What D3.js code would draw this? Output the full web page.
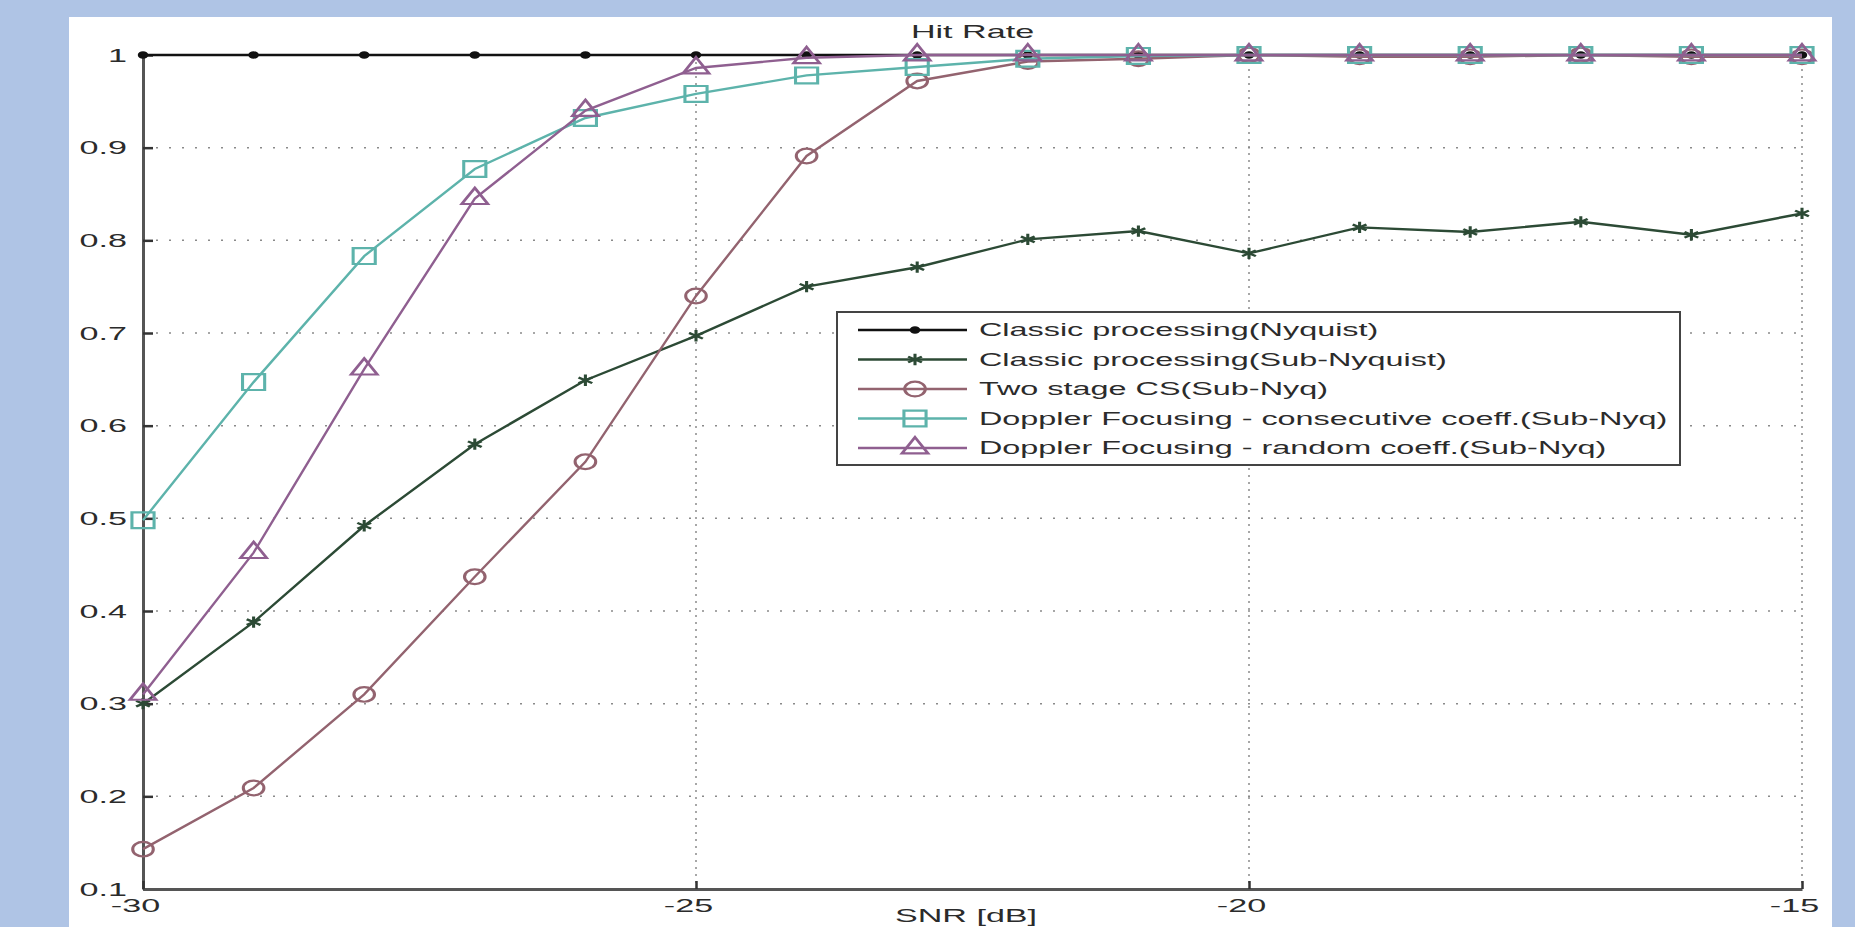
<!DOCTYPE html>
<html>
<head>
<meta charset="utf-8">
<script src="https://cdn.jsdelivr.net/npm/d3@7"></script>
<style>
  body { margin: 0; background: #afc4e5; overflow: hidden; }
  text { font-family: "Liberation Sans", Arial, sans-serif; fill: #2b2b2b; }
</style>
</head>
<body>
<div id="chart"></div>
<script>
// data
var snr = [-30, -29, -28, -27, -26, -25, -24, -23, -22, -21, -20, -19, -18, -17, -16, -15];
var nyquist = [1, 1, 1, 1, 1, 1, 1, 1, 1, 1, 1, 1, 1, 1, 1, 1];
var subNyquist = [0.300, 0.388, 0.492, 0.580, 0.649, 0.697, 0.750, 0.771, 0.801, 0.810, 0.786, 0.814, 0.809, 0.820, 0.806, 0.829];
var twoStage = [0.143, 0.209, 0.310, 0.437, 0.561, 0.740, 0.891, 0.972, 0.993, 0.996, 1.0, 0.998, 0.998, 1.0, 0.998, 0.998];
var dopplerConsec = [0.498, 0.647, 0.783, 0.877, 0.932, 0.958, 0.978, 0.987, 0.996, 0.999, 1, 1, 1, 1, 1, 1];
var dopplerRandom = [0.310, 0.463, 0.661, 0.845, 0.940, 0.986, 0.997, 1, 1, 1, 1, 1, 1, 1, 1, 1];
var seriesNames = ["Classic processing(Nyquist)", "Classic processing(Sub-Nyquist)", "Two stage CS(Sub-Nyq)",
  "Doppler Focusing - consecutive coeff.(Sub-Nyq)", "Doppler Focusing - random coeff.(Sub-Nyq)"];
var xTicks = [-30, -25, -20, -15];
var yTicks = [0.1, 0.2, 0.3, 0.4, 0.5, 0.6, 0.7, 0.8, 0.9, 1];
var chartTitle = "Hit Rate";
var xTitle = "SNR [dB]";

var svgWidth = 1855, svgHeight = 927;
var plot = { left: 143, right: 1802, top: 55, bottom: 889 };
var SX = 1.95;   // the picture is stretched sideways, text too
var FS = "17.5px";

var styles = [
  { color: "#111111", symbol: d3.symbolCircle, size: 22, fill: true },
  { color: "#2c4a35", symbol: d3.symbolAsterisk, size: 90, fill: false },
  { color: "#93636f", symbol: d3.symbolCircle, size: 170, fill: false },
  { color: "#5db3ab", symbol: d3.symbolSquare, size: 250, fill: false },
  { color: "#8f5f90", symbol: d3.symbolTriangle, size: 150, fill: false }
];
var allSeries = [nyquist, subNyquist, twoStage, dopplerConsec, dopplerRandom];

var svg = d3.select("#chart").append("svg")
  .attr("width", svgWidth)
  .attr("height", svgHeight);

svg.append("rect")
  .attr("x", 69).attr("y", 17)
  .attr("width", 1763).attr("height", 910)
  .attr("fill", "#ffffff");

var x = d3.scaleLinear().domain([-30, -15]).range([plot.left, plot.right]);
var y = d3.scaleLinear().domain([0.1, 1]).range([plot.bottom, plot.top]);

function stretchedText(g, tx, ty, str, anchor, sx) {
  return g.append("text")
    .attr("transform", `translate(${tx},${ty}) scale(${sx || SX},1)`)
    .style("font-size", FS)
    .style("text-anchor", anchor)
    .text(str);
}

// grid
var grid = svg.append("g");
grid.selectAll(".hg")
  .data(yTicks.filter(d => d > 0.1))
  .enter().append("line")
  .attr("x1", plot.left).attr("x2", plot.right)
  .attr("y1", d => y(d)).attr("y2", d => y(d))
  .attr("stroke", "#8a8a8a")
  .attr("stroke-width", 1.5)
  .attr("stroke-dasharray", "2,11");
grid.selectAll(".vg")
  .data(xTicks.filter(d => d > -30))
  .enter().append("line")
  .attr("x1", d => x(d)).attr("x2", d => x(d))
  .attr("y1", plot.top).attr("y2", plot.bottom)
  .attr("stroke", "#8a8a8a")
  .attr("stroke-width", 1.5)
  .attr("stroke-dasharray", "2,5");

// axes
var yAxis = d3.axisLeft(y).tickValues(yTicks).tickSizeInner(-10).tickSizeOuter(0)
  .tickFormat(d => d3.format("")(+d.toFixed(1)));
var yG = svg.append("g").attr("transform", `translate(${plot.left},0)`).call(yAxis);
var xAxis = d3.axisBottom(x).tickValues(xTicks).tickSizeInner(-8).tickSizeOuter(0)
  .tickFormat(d => d);
var xG = svg.append("g").attr("transform", `translate(0,${plot.bottom})`).call(xAxis);

[yG, xG].forEach(function(g) {
  g.select(".domain").attr("stroke", "#555").attr("stroke-width", 3);
  g.selectAll(".tick line").attr("stroke", "#333").attr("stroke-width", 2.5);
  g.selectAll(".tick text").style("font-size", FS).attr("fill", "#2b2b2b")
    .style("font-family", "'Liberation Sans', Arial, sans-serif");
});
yG.selectAll(".tick text")
  .attr("x", 0).attr("dy", "0.35em")
  .attr("transform", `translate(-16,0) scale(${SX},1)`);
xG.selectAll(".tick text")
  .attr("y", 0).attr("dy", "0.71em")
  .attr("transform", `translate(-8,11) scale(${SX},1)`);

// series
var line = d3.line()
  .x((d, i) => x(snr[i]))
  .y(d => y(d));

allSeries.forEach(function(vals, k) {
  var st = styles[k];
  var g = svg.append("g");
  g.append("path")
    .datum(vals)
    .attr("d", line)
    .attr("fill", "none")
    .attr("stroke", st.color)
    .attr("stroke-width", 2.4);
  g.selectAll("path.mk")
    .data(vals)
    .enter().append("path")
    .attr("class", "mk")
    .attr("d", d3.symbol().type(st.symbol).size(st.size))
    .attr("transform", (d, i) => `translate(${x(snr[i])},${y(d)}) scale(1.4,1)`)
    .attr("fill", st.fill ? st.color : "none")
    .attr("stroke", st.color)
    .attr("stroke-width", 2.2);
});

// title and axis label
stretchedText(svg, (plot.left + plot.right) / 2, 38, chartTitle, "middle");
stretchedText(svg, 966, 922, xTitle, "middle");

// legend
var legend = svg.append("g");
legend.append("rect")
  .attr("x", 837).attr("y", 312)
  .attr("width", 843).attr("height", 153)
  .attr("fill", "#ffffff")
  .attr("stroke", "#444")
  .attr("stroke-width", 2);
seriesNames.forEach(function(name, k) {
  var st = styles[k];
  var ry = 330 + k * 29.5;
  legend.append("line")
    .attr("x1", 858).attr("x2", 967)
    .attr("y1", ry).attr("y2", ry)
    .attr("stroke", st.color)
    .attr("stroke-width", 2.4);
  legend.append("path")
    .attr("d", d3.symbol().type(st.symbol).size(st.size))
    .attr("transform", `translate(915,${ry}) scale(1.4,1)`)
    .attr("fill", st.fill ? st.color : "none")
    .attr("stroke", st.color)
    .attr("stroke-width", 2.2);
  stretchedText(legend, 979, ry + 6, name, "start", 1.85);
});
</script>
</body>
</html>
